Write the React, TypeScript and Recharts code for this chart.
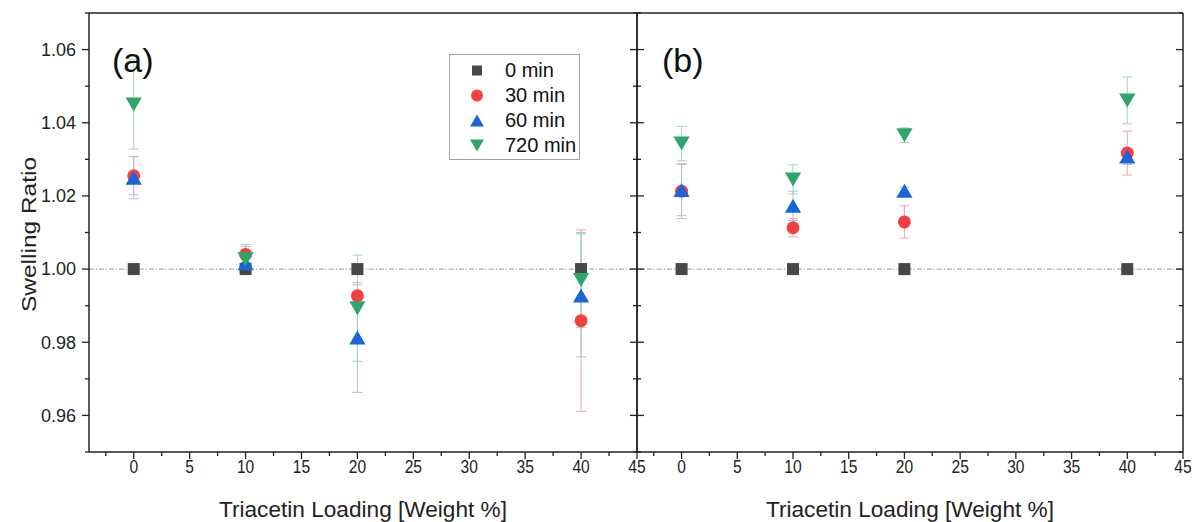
import React from 'react';
import { ScatterChart, Scatter, XAxis, YAxis, ErrorBar, ReferenceLine, Legend } from 'recharts';

const FONT = "'Liberation Sans', Arial, Helvetica, sans-serif";
const W = 1197;
const H = 522;

// ---------- data ----------
const loadings = [0, 10, 20, 40];
const seriesNames = ['0 min', '30 min', '60 min', '720 min'];
const seriesKinds = ['square', 'circle', 'up', 'down'];
const seriesColors = ['#474747', '#f34141', '#1866d8', '#2ca66a'];
const errorColors = ['#9a9a9a', '#f6a5a5', '#a3c1f0', '#9dd7b7'];

// Panel (a)
const a0 = [1.0, 1.0, 1.0, 1.0];
const a0err = [0, 0, 0, 0];
const a30 = [1.0255, 1.004, 0.9927, 0.9859];
const a30err = [0.0052, 0.0022, 0.003, 0.0248];
const a60 = [1.025, 1.0016, 0.9813, 0.9928];
const a60err = [0.0058, 0.002, 0.015, 0.0168];
const a720 = [1.045, 1.0027, 0.9893, 0.997];
const a720err = [0.0122, 0.004, 0.0145, 0.013];

// Panel (b)
const b0 = [1.0, 1.0, 1.0, 1.0];
const b0err = [0, 0, 0, 0];
const b30 = [1.0213, 1.0113, 1.0129, 1.0317];
const b30err = [0.0075, 0.0025, 0.0044, 0.006];
const b60 = [1.0216, 1.0173, 1.0214, 1.0308];
const b60err = [0.007, 0.004, 0.001, 0.0022];
const b720 = [1.0343, 1.0245, 1.0366, 1.0461];
const b720err = [0.0047, 0.004, 0.002, 0.0064];

// ---------- axes ----------
const xDomain = [-4, 45];
const yDomain = [0.95, 1.07];
const xTicks = [-2.5, 0, 2.5, 5, 7.5, 10, 12.5, 15, 17.5, 20, 22.5, 25, 27.5, 30, 32.5, 35, 37.5, 40, 42.5, 45];
const xMajorTicks = [0, 5, 10, 15, 20, 25, 30, 35, 40, 45];
const yTicks = [0.95, 0.96, 0.97, 0.98, 0.99, 1.0, 1.01, 1.02, 1.03, 1.04, 1.05, 1.06, 1.07];
const yMajorTicks = [0.96, 0.98, 1.0, 1.02, 1.04, 1.06];
const xTitle = 'Triacetin Loading [Weight %]';
const yTitle = 'Swelling Ratio';

type Pt = { x: number; y: number; e: number };
const build = (ys: number[], es: number[]): Pt[] => loadings.map((x, i) => ({ x, y: ys[i], e: es[i] }));

const panelA = [build(a0, a0err), build(a30, a30err), build(a60, a60err), build(a720, a720err)];
const panelB = [build(b0, b0err), build(b30, b30err), build(b60, b60err), build(b720, b720err)];

// ---------- markers ----------
function markerEl(kind: string, cx: number, cy: number, color: string, s: number) {
  switch (kind) {
    case 'square':
      return <rect x={cx - s / 2} y={cy - s / 2} width={s} height={s} fill={color} />;
    case 'circle':
      return <circle cx={cx} cy={cy} r={s / 2} fill={color} />;
    case 'up': {
      const w = s * 0.58, h = s * 0.5;
      return <polygon points={`${cx - w},${cy + h} ${cx + w},${cy + h} ${cx},${cy - h}`} fill={color} />;
    }
    default: {
      const w = s * 0.58, h = s * 0.5;
      return <polygon points={`${cx - w},${cy - h} ${cx + w},${cy - h} ${cx},${cy + h}`} fill={color} />;
    }
  }
}
const dataSizes = [12, 13, 14, 14];
const legendSizes = [10, 12, 12, 12];

const makeShape = (i: number) => (p: any) => {
  if (p == null || p.cx == null) return <g />;
  return markerEl(seriesKinds[i], p.cx, p.cy, seriesColors[i], dataSizes[i]);
};

// ---------- ticks ----------
type Side = 'leftOut' | 'leftIn' | 'rightIn' | 'topIn' | 'bottomOut';
const isMajor = (v: number, majors: number[]) => majors.some((m) => Math.abs(m - v) < 1e-6);

function makeTick(side: Side, majors: number[], withLabel: boolean) {
  return (p: any) => {
    const v = Number(p.payload.value);
    const major = isMajor(v, majors);
    const len = major ? 7 : 4;
    const x = p.x;
    const y = p.y;
    let x2 = x;
    let y2 = y;
    if (side === 'leftOut') x2 = x - len;
    if (side === 'leftIn') x2 = x + len;
    if (side === 'rightIn') x2 = x - len;
    if (side === 'topIn') y2 = y + len;
    if (side === 'bottomOut') y2 = y + len;
    return (
      <g>
        <line x1={x} y1={y} x2={x2} y2={y2} stroke="#222" strokeWidth={1.3} />
        {withLabel && major && side === 'leftOut' && (
          <text x={x - 13} y={y} dy="0.35em" textAnchor="end" fontSize={18} fill="#222" fontFamily={FONT}>
            {v.toFixed(2)}
          </text>
        )}
        {withLabel && major && side === 'bottomOut' && (
          <text
            transform={`translate(${x},${y + 21}) scale(0.82,1)`}
            textAnchor="middle"
            fontSize={19}
            fill="#222"
            fontFamily={FONT}
          >
            {String(v)}
          </text>
        )}
      </g>
    );
  };
}

const axisLine = { stroke: '#222', strokeWidth: 1.5 };

const xTitleLabel = (props: any) => {
  const vb = props && props.viewBox ? props.viewBox : { x: 0, y: 452, width: 548, height: 70 };
  return (
    <text
      x={vb.x + vb.width / 2}
      y={vb.y + 65}
      textAnchor="middle"
      fontSize={22}
      fill="#222"
      fontFamily={FONT}
      textLength={288}
      lengthAdjust="spacingAndGlyphs"
    >
      {xTitle}
    </text>
  );
};

const yTitleLabel = (props: any) => {
  const vb = props && props.viewBox ? props.viewBox : { x: 0, y: 13, width: 89, height: 439 };
  const cx = vb.x + 29;
  const cy = vb.y + vb.height / 2 + 2;
  return (
    <text
      transform={`translate(${cx},${cy}) rotate(-90)`}
      textAnchor="middle"
      dy="0.35em"
      fontSize={21}
      fill="#222"
      fontFamily={FONT}
      textLength={155}
      lengthAdjust="spacingAndGlyphs"
    >
      {yTitle}
    </text>
  );
};

const legendContent = () => (
  <div
    style={{
      position: 'relative',
      width: 131,
      height: 106,
      border: '1px solid #a0a0a0',
      boxSizing: 'border-box',
      background: '#fff',
      fontFamily: FONT,
    }}
  >
    {seriesNames.map((n, i) => (
      <div
        key={n}
        style={{ position: 'absolute', left: 0, top: 2.5 + i * 25, height: 25, display: 'flex', alignItems: 'center' }}
      >
        <svg width={55} height={25} style={{ display: 'block' }}>
          {markerEl(seriesKinds[i], 27, 12.5, seriesColors[i], legendSizes[i])}
        </svg>
        <span style={{ fontSize: 20, color: '#111', lineHeight: '25px', whiteSpace: 'nowrap' }}>{n}</span>
      </div>
    ))}
  </div>
);

function Panel({
  data,
  left,
  right,
  leftWidth,
  leftSide,
  withYLabels,
  withLegend,
}: {
  data: Pt[][];
  left: number;
  right: number;
  leftWidth: number;
  leftSide: Side;
  withYLabels: boolean;
  withLegend: boolean;
}) {
  return (
    <div style={{ position: 'absolute', left: 0, top: 0, width: W, height: H }}>
      <ScatterChart width={W} height={H} margin={{ top: 12, right: W - right - 1, bottom: 0, left: left - leftWidth }}>
        <XAxis
          xAxisId="b"
          type="number"
          dataKey="x"
          domain={xDomain}
          allowDataOverflow
          ticks={xTicks}
          interval={0}
          orientation="bottom"
          height={70}
          tickSize={0}
          tickMargin={0}
          tickLine={false}
          axisLine={axisLine}
          tick={makeTick('bottomOut', xMajorTicks, true)}
          label={xTitleLabel}
        />
        <XAxis
          xAxisId="t"
          type="number"
          domain={xDomain}
          allowDataOverflow
          ticks={xTicks}
          interval={0}
          orientation="top"
          height={1}
          tickSize={0}
          tickMargin={0}
          tickLine={false}
          axisLine={axisLine}
          tick={makeTick('topIn', xMajorTicks, false)}
        />
        <YAxis
          yAxisId="l"
          type="number"
          dataKey="y"
          domain={yDomain}
          allowDataOverflow
          ticks={yTicks}
          interval={0}
          orientation="left"
          width={leftWidth}
          tickSize={0}
          tickMargin={0}
          tickLine={false}
          axisLine={axisLine}
          tick={makeTick(leftSide, yMajorTicks, withYLabels)}
          label={withYLabels ? yTitleLabel : undefined}
        />
        <YAxis
          yAxisId="r"
          type="number"
          domain={yDomain}
          allowDataOverflow
          ticks={yTicks}
          interval={0}
          orientation="right"
          width={1}
          tickSize={0}
          tickMargin={0}
          tickLine={false}
          axisLine={axisLine}
          tick={makeTick('rightIn', yMajorTicks, false)}
        />
        <ReferenceLine
          xAxisId="b"
          yAxisId="l"
          y={1}
          stroke="#9a9a9a"
          strokeWidth={1}
          strokeDasharray="5 2 1 2"
        />
        {data.map((pts, i) => (
          <Scatter
            key={seriesNames[i]}
            name={seriesNames[i]}
            xAxisId="b"
            yAxisId="l"
            data={pts}
            fill={seriesColors[i]}
            shape={makeShape(i)}
            isAnimationActive={false}
          >
            {i > 0 && (
              <ErrorBar dataKey="e" direction="y" width={5} stroke={errorColors[i]} strokeWidth={1} />
            )}
          </Scatter>
        ))}
        {withLegend && (
          <Legend
            layout="vertical"
            align="center"
            verticalAlign="middle"
            content={legendContent}
            wrapperStyle={{ left: 449, top: 54, width: 131, height: 106 }}
          />
        )}
      </ScatterChart>
    </div>
  );
}

export default function App() {
  return (
    <div style={{ position: 'absolute', left: 0, top: 0, width: W, height: H, background: '#fff', overflow: 'hidden' }}>
      <Panel data={panelA} left={89} right={637} leftWidth={89} leftSide="leftOut" withYLabels={true} withLegend={true} />
      <Panel data={panelB} left={637} right={1183} leftWidth={10} leftSide="leftIn" withYLabels={false} withLegend={false} />
      <svg width={W} height={H} style={{ position: 'absolute', left: 0, top: 0, pointerEvents: 'none' }}>
        <text x={112} y={72} fontSize={34} fill="#111" fontFamily={FONT}>(a)</text>
        <text x={662} y={72} fontSize={34} fill="#111" fontFamily={FONT}>(b)</text>
      </svg>
    </div>
  );
}
